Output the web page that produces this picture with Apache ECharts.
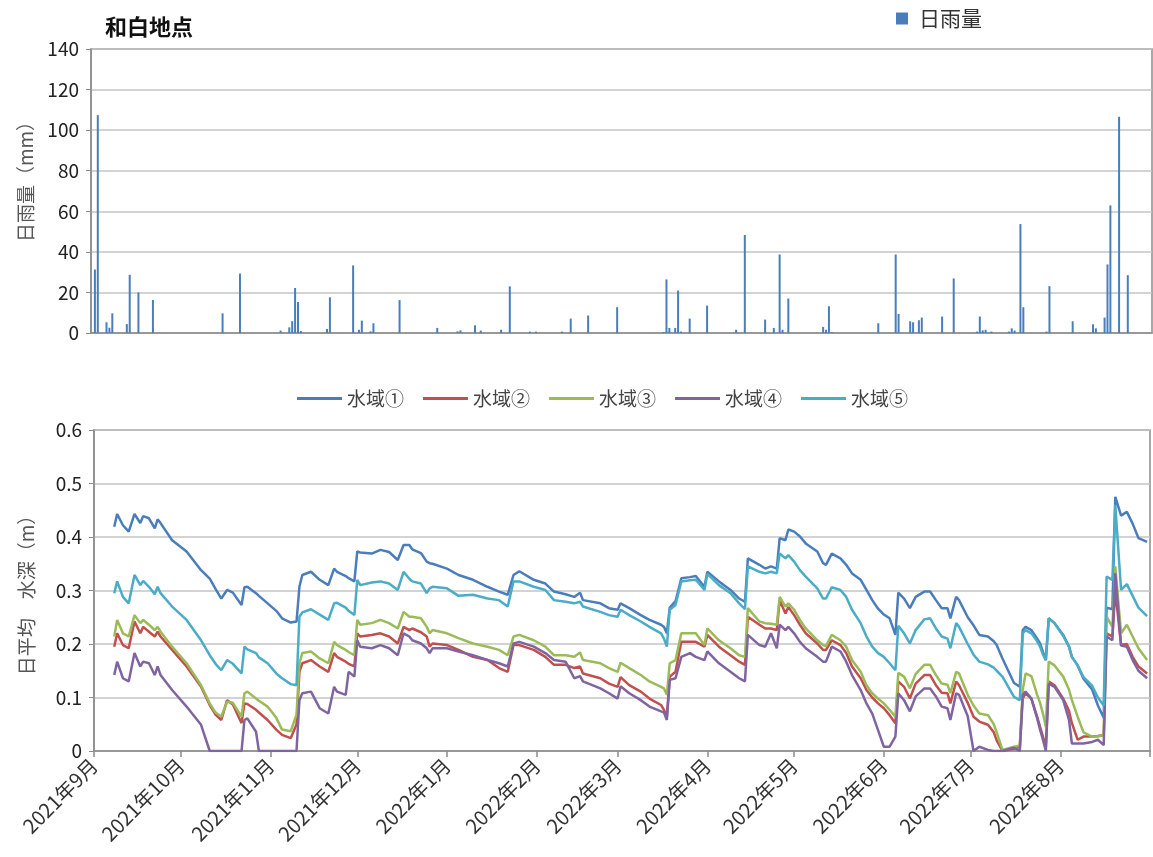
<!DOCTYPE html>
<html>
<head>
<meta charset="utf-8">
<script src="https://cdn.jsdelivr.net/npm/echarts@6/dist/echarts.min.js"></script>
<style>
    html, body { margin: 0; padding: 0; background: #fff; }
    #chart { width: 1153px; height: 857px; }
</style>
</head>
<body>
<div id="chart"></div>
<script>
    // 日雨量 (mm)
    const rainDates = [
        '2021-09-02', '2021-09-03', '2021-09-06', '2021-09-07', '2021-09-08', '2021-09-13', '2021-09-14',
        '2021-09-17', '2021-09-22', '2021-10-16', '2021-10-22', '2021-11-05', '2021-11-08', '2021-11-09',
        '2021-11-10', '2021-11-11', '2021-11-12', '2021-11-21', '2021-11-22', '2021-11-30', '2021-12-02',
        '2021-12-03', '2021-12-06', '2021-12-07', '2021-12-16', '2021-12-29', '2022-01-05', '2022-01-06',
        '2022-01-11', '2022-01-13', '2022-01-20', '2022-01-23', '2022-01-30', '2022-02-01', '2022-02-10',
        '2022-02-13', '2022-02-19', '2022-03-01', '2022-03-17', '2022-03-18', '2022-03-19', '2022-03-21',
        '2022-03-22', '2022-03-23', '2022-03-26', '2022-04-01', '2022-04-11', '2022-04-14', '2022-04-21',
        '2022-04-24', '2022-04-26', '2022-04-27', '2022-04-29', '2022-05-11', '2022-05-12', '2022-05-13',
        '2022-05-14', '2022-05-30', '2022-06-05', '2022-06-06', '2022-06-10', '2022-06-11', '2022-06-13',
        '2022-06-14', '2022-06-21', '2022-06-25', '2022-07-03', '2022-07-04', '2022-07-05', '2022-07-06',
        '2022-07-08', '2022-07-14', '2022-07-15', '2022-07-16', '2022-07-18', '2022-07-19', '2022-07-27',
        '2022-07-28', '2022-08-05', '2022-08-12', '2022-08-13', '2022-08-16', '2022-08-17', '2022-08-18',
        '2022-08-21', '2022-08-24'
    ]
    const rainValues = [
        31.3, 107.4, 5.3, 2.6, 9.7, 4.4, 28.7,
        20.0, 16.3, 9.7, 29.3, 1.2, 2.8, 5.8,
        22.2, 15.3, 1.0, 2.0, 17.6, 33.3, 1.6,
        6.1, 0.8, 4.8, 16.2, 2.5, 0.8, 1.3,
        3.8, 1.2, 1.6, 23.0, 0.7, 0.7, 0.7,
        7.1, 8.6, 12.7, 0.5, 26.4, 2.5, 2.5,
        20.9, 0.7, 7.1, 13.5, 1.6, 48.3, 6.6,
        2.5, 38.7, 1.6, 17.0, 3.0, 1.6, 13.2,
        0.5, 4.8, 38.7, 9.4, 5.8, 5.3, 6.3,
        7.6, 8.1, 26.9, 0.7, 8.1, 1.3, 1.6,
        0.7, 0.7, 2.3, 1.2, 53.7, 12.7, 0.7,
        23.1, 5.8, 4.3, 2.3, 7.6, 33.8, 62.9,
        106.6, 28.5
    ]

    // 日平均水深 (m)
    const depthDates = [
        '2021-09-08', '2021-09-09', '2021-09-11', '2021-09-13', '2021-09-15', '2021-09-17', '2021-09-18',
        '2021-09-20', '2021-09-22', '2021-09-23', '2021-09-24', '2021-09-28', '2021-10-03', '2021-10-08',
        '2021-10-11', '2021-10-13', '2021-10-15', '2021-10-17', '2021-10-19', '2021-10-22', '2021-10-23',
        '2021-10-24', '2021-10-27', '2021-10-28', '2021-10-31', '2021-11-03', '2021-11-05', '2021-11-08',
        '2021-11-10', '2021-11-11', '2021-11-12', '2021-11-15', '2021-11-18', '2021-11-21', '2021-11-23',
        '2021-11-24', '2021-11-27', '2021-11-28', '2021-11-30', '2021-12-01', '2021-12-02', '2021-12-06',
        '2021-12-09', '2021-12-12', '2021-12-15', '2021-12-17', '2021-12-19', '2021-12-20', '2021-12-23',
        '2021-12-25', '2021-12-26', '2021-12-27', '2022-01-01', '2022-01-05', '2022-01-10', '2022-01-15',
        '2022-01-19', '2022-01-22', '2022-01-24', '2022-01-26', '2022-01-31', '2022-02-04', '2022-02-07',
        '2022-02-11', '2022-02-14', '2022-02-16', '2022-02-17', '2022-02-23', '2022-02-26', '2022-03-01',
        '2022-03-02', '2022-03-05', '2022-03-09', '2022-03-12', '2022-03-16', '2022-03-17', '2022-03-18',
        '2022-03-19', '2022-03-21', '2022-03-23', '2022-03-26', '2022-03-28', '2022-03-31', '2022-04-01',
        '2022-04-05', '2022-04-09', '2022-04-12', '2022-04-14', '2022-04-15', '2022-04-19', '2022-04-21',
        '2022-04-23', '2022-04-25', '2022-04-26', '2022-04-28', '2022-04-29', '2022-05-01', '2022-05-03',
        '2022-05-05', '2022-05-09', '2022-05-11', '2022-05-12', '2022-05-14', '2022-05-17', '2022-05-19',
        '2022-05-21', '2022-05-24', '2022-05-26', '2022-05-28', '2022-05-30', '2022-06-01', '2022-06-03',
        '2022-06-05', '2022-06-06', '2022-06-08', '2022-06-10', '2022-06-12', '2022-06-15', '2022-06-17',
        '2022-06-19', '2022-06-21', '2022-06-23', '2022-06-24', '2022-06-26', '2022-06-27', '2022-06-30',
        '2022-07-02', '2022-07-04', '2022-07-07', '2022-07-09', '2022-07-10', '2022-07-12', '2022-07-16',
        '2022-07-18', '2022-07-19', '2022-07-20', '2022-07-22', '2022-07-24', '2022-07-25', '2022-07-26',
        '2022-07-27', '2022-07-28', '2022-07-30', '2022-08-02', '2022-08-04', '2022-08-05', '2022-08-07',
        '2022-08-09', '2022-08-12', '2022-08-14', '2022-08-16', '2022-08-17', '2022-08-19', '2022-08-20',
        '2022-08-22', '2022-08-24', '2022-08-26', '2022-08-28', '2022-08-31'
    ]
    const depth1 = [
        .419, .443, .422, .410, .443, .426, .439,
        .435, .416, .433, .426, .394, .373, .338,
        .322, .303, .285, .301, .296, .273, .306,
        .307, .295, .290, .276, .262, .248, .240,
        .242, .307, .329, .335, .320, .310, .341,
        .335, .327, .323, .317, .373, .371, .369,
        .376, .372, .357, .385, .385, .377, .370,
        .354, .351, .350, .341, .329, .320, .307,
        .298, .292, .329, .336, .320, .313, .298,
        .293, .288, .296, .282, .276, .267, .264,
        .276, .267, .254, .245, .236, .232, .220,
        .268, .280, .323, .325, .327, .307, .335,
        .317, .301, .285, .279, .360, .348, .341,
        .345, .341, .398, .394, .414, .410, .401,
        .388, .373, .351, .348, .369, .360, .348,
        .332, .320, .301, .282, .266, .255, .248,
        .217, .296, .285, .267, .288, .298, .298,
        .282, .267, .267, .248, .288, .282, .250,
        .235, .217, .214, .205, .198, .173, .127,
        .120, .226, .232, .226, .210, .201, .185,
        .170, .248, .239, .217, .195, .176, .160,
        .135, .115, .085, .062, .268, .265, .475,
        .440, .447, .425, .398, .391
    ]
    const depth2 = [
        .195, .220, .198, .192, .242, .220, .232,
        .223, .214, .223, .214, .189, .158, .120,
        .086, .068, .058, .095, .087, .052, .089,
        .088, .077, .072, .058, .040, .030, .024,
        .050, .148, .164, .170, .158, .148, .183,
        .176, .167, .163, .158, .220, .214, .217,
        .220, .214, .201, .232, .226, .229, .222,
        .214, .195, .201, .198, .189, .176, .170,
        .155, .148, .198, .198, .189, .176, .161,
        .161, .155, .158, .145, .136, .126, .120,
        .138, .123, .111, .098, .086, .077, .064,
        .139, .148, .204, .204, .204, .195, .217,
        .195, .179, .167, .161, .251, .236, .229,
        .229, .226, .282, .257, .269, .254, .236,
        .220, .201, .189, .189, .207, .198, .183,
        .158, .136, .114, .100, .089, .080, .067,
        .052, .130, .120, .098, .126, .142, .142,
        .123, .109, .108, .089, .130, .123, .090,
        .064, .055, .049, .035, .020, .000, .004,
        .008, .098, .108, .098, .064, .045, .027,
        .008, .130, .123, .098, .075, .052, .021,
        .027, .027, .028, .030, .220, .214, .300,
        .198, .200, .176, .158, .145
    ]
    const depth3 = [
        .214, .245, .220, .214, .254, .239, .245,
        .236, .226, .232, .223, .195, .164, .123,
        .089, .072, .064, .092, .090, .064, .108,
        .111, .098, .094, .083, .062, .040, .037,
        .068, .164, .183, .186, .173, .164, .204,
        .198, .189, .185, .179, .245, .236, .239,
        .245, .239, .229, .260, .251, .251, .248,
        .232, .220, .226, .220, .211, .201, .195,
        .189, .179, .214, .217, .207, .195, .179,
        .179, .176, .184, .170, .164, .155, .148,
        .165, .155, .142, .130, .120, .117, .105,
        .164, .170, .220, .220, .220, .198, .229,
        .207, .192, .179, .176, .267, .242, .239,
        .238, .236, .288, .270, .276, .264, .245,
        .229, .207, .198, .196, .217, .207, .195,
        .170, .148, .123, .108, .098, .089, .077,
        .064, .146, .139, .117, .144, .161, .161,
        .142, .126, .124, .108, .148, .145, .105,
        .085, .070, .067, .050, .035, .002, .008,
        .010, .114, .145, .140, .105, .090, .070,
        .045, .167, .160, .139, .115, .095, .064,
        .035, .027, .027, .030, .251, .232, .345,
        .220, .236, .214, .192, .170
    ]
    const depth4 = [
        .142, .167, .136, .130, .183, .158, .167,
        .164, .142, .158, .142, .114, .083, .049,
        .000, .000, .000, .000, .000, .000, .058,
        .061, .036, .000, .000, .000, .000, .000,
        .000, .095, .108, .111, .080, .070, .120,
        .111, .105, .148, .139, .207, .195, .192,
        .198, .192, .179, .220, .214, .207, .201,
        .192, .183, .192, .192, .186, .179, .170,
        .164, .158, .201, .204, .195, .183, .170,
        .167, .136, .140, .130, .117, .108, .098,
        .121, .108, .095, .083, .074, .072, .058,
        .133, .136, .176, .183, .176, .170, .186,
        .164, .148, .136, .130, .217, .198, .195,
        .220, .192, .236, .226, .232, .220, .204,
        .192, .176, .167, .167, .195, .186, .167,
        .142, .114, .089, .070, .039, .008, .008,
        .027, .108, .095, .074, .102, .117, .117,
        .102, .083, .080, .058, .108, .105, .065,
        .000, .008, .002, .000, .000, .000, .006,
        .000, .105, .111, .098, .061, .040, .021,
        .000, .126, .120, .095, .058, .014, .014,
        .014, .017, .021, .011, .214, .207, .332,
        .197, .195, .170, .150, .136
    ]
    const depth5 = [
        .295, .317, .288, .276, .329, .310, .318,
        .307, .293, .307, .295, .270, .245, .207,
        .179, .163, .151, .170, .163, .145, .195,
        .190, .183, .175, .164, .145, .136, .125,
        .123, .251, .259, .265, .255, .245, .276,
        .277, .268, .262, .254, .320, .310, .315,
        .317, .313, .301, .335, .322, .317, .313,
        .295, .304, .307, .304, .290, .292, .285,
        .282, .270, .317, .317, .307, .301, .282,
        .279, .276, .279, .270, .260, .254, .251,
        .264, .254, .242, .232, .220, .210, .195,
        .264, .273, .317, .319, .320, .301, .331,
        .310, .295, .276, .265, .345, .335, .332,
        .335, .332, .369, .360, .366, .354, .338,
        .326, .304, .285, .285, .306, .301, .288,
        .264, .239, .214, .195, .183, .176, .164,
        .151, .234, .220, .201, .226, .246, .248,
        .229, .214, .210, .192, .239, .232, .200,
        .180, .167, .162, .156, .150, .139, .101,
        .095, .220, .226, .220, .205, .195, .180,
        .170, .248, .239, .215, .195, .176, .160,
        .138, .122, .100, .085, .326, .320, .460,
        .301, .312, .290, .268, .252
    ]
    const depthNames = ['水域①', '水域②', '水域③', '水域④', '水域⑤']
    const depthColors = ['#4a7ebb', '#c0504d', '#9bbb59', '#8064a2', '#4bacc6']

    const font = '"Noto Sans CJK JP", "Noto Sans", sans-serif'
    const xMin = new Date(2021, 8, 1).getTime()
    const xMax = new Date(2022, 8, 1).getTime()
    const DAY = 86400000

    const chart = echarts.init(document.getElementById('chart'))

    const depthSeries = [depth1, depth2, depth3, depth4, depth5].map((values, k) => ({
        name: depthNames[k],
        type: 'line',
        xAxisIndex: 1,
        yAxisIndex: 1,
        symbol: 'none',
        lineStyle: { width: 2.5, color: depthColors[k] },
        itemStyle: { color: depthColors[k] },
        data: depthDates.map((d, i) => [d, values[i]])
    }))

    chart.setOption({
        animation: false,
        textStyle: { fontFamily: font },
        title: {
            text: '和白地点',
            left: 100,
            top: 11,
            textStyle: { fontSize: 22, fontWeight: 'bold', color: '#111', fontFamily: font }
        },
        legend: [{
            data: ['日雨量'],
            left: 891,
            top: 3,
            icon: 'rect',
            itemWidth: 12,
            itemHeight: 12,
            textStyle: { fontSize: 21, color: '#333', padding: [0, 0, 0, 6] }
        }, {
            data: depthNames,
            left: 292,
            top: 384,
            icon: 'rect',
            itemWidth: 45,
            itemHeight: 3,
            itemGap: 19,
            textStyle: { fontSize: 19, color: '#444' }
        }],
        grid: [
            { left: 91, right: 1, top: 49, bottom: 524, show: true, borderColor: '#8c8c8c', borderWidth: 1.5 },
            { left: 94, right: 3, top: 430, bottom: 106, show: true, borderColor: '#8c8c8c', borderWidth: 1.5 }
        ],
        xAxis: [{
            type: 'time',
            gridIndex: 0,
            min: xMin,
            max: xMax,
            axisLine: { lineStyle: { color: '#8c8c8c', width: 1.5 } },
            axisTick: { show: false },
            axisLabel: { show: false },
            splitLine: { show: false }
        }, {
            type: 'time',
            gridIndex: 1,
            min: xMin,
            max: xMax,
            minInterval: 28 * DAY,
            maxInterval: 31 * DAY,
            axisLine: { lineStyle: { color: '#8c8c8c', width: 1.5 } },
            axisTick: { show: true, length: 6, lineStyle: { color: '#8c8c8c', width: 1.5 } },
            axisLabel: {
                rotate: 45,
                margin: 11,
                fontSize: 20,
                color: '#333',
                formatter (value) {
                    if (value >= xMax - DAY) return ''
                    const d = new Date(value)
                    return d.getFullYear() + '年' + (d.getMonth() + 1) + '月'
                }
            },
            splitLine: { show: false }
        }],
        yAxis: [{
            type: 'value',
            gridIndex: 0,
            min: 0,
            max: 140,
            interval: 20,
            name: '日雨量（mm）',
            nameLocation: 'middle',
            nameGap: 56,
            nameTextStyle: { fontSize: 19, color: '#555', padding: [0, 0, 0, 28] },
            axisLine: { show: true, lineStyle: { color: '#8c8c8c', width: 1.5 } },
            axisTick: { show: true, length: 5, lineStyle: { color: '#8c8c8c' } },
            axisLabel: { fontSize: 19, color: '#222', margin: 12 },
            splitLine: { lineStyle: { color: '#c4c4c4', width: 1.5 } }
        }, {
            type: 'value',
            gridIndex: 1,
            min: 0,
            max: 0.6,
            interval: 0.1,
            name: '日平均　水深（m）',
            nameLocation: 'middle',
            nameGap: 58,
            nameTextStyle: { fontSize: 19, color: '#555' },
            axisLine: { show: true, lineStyle: { color: '#8c8c8c', width: 1.5 } },
            axisTick: { show: true, length: 5, lineStyle: { color: '#8c8c8c' } },
            axisLabel: { fontSize: 19, color: '#222', margin: 12 },
            splitLine: { lineStyle: { color: '#c4c4c4', width: 1.5 } }
        }],
        series: [{
            name: '日雨量',
            type: 'bar',
            xAxisIndex: 0,
            yAxisIndex: 0,
            barWidth: 2,
            itemStyle: { color: '#4a7ebb' },
            data: rainDates.map((d, i) => [d, rainValues[i]])
        }].concat(depthSeries)
    })
</script>
</body>
</html>
